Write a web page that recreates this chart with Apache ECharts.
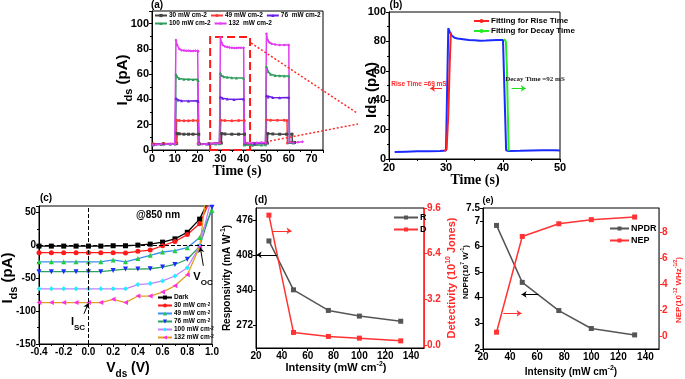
<!DOCTYPE html>
<html>
<head>
<meta charset="utf-8">
<script src="https://cdn.jsdelivr.net/npm/echarts@6/dist/echarts.min.js"></script>
<style>
html, body { margin: 0; padding: 0; background: #fff; }
#chart { width: 685px; height: 379px; }
</style>
</head>
<body>
<div id="chart"></div>
<script>
// (a) transient photocurrent, [time s, Ids pA]
const a30 = [[0.5,4.5],[5,5],[10.8,5.2],[11,13],[12,12.8],[14,12.5],[16,12.5],[18,12.5],[20.5,12.5],[20.7,5],[25,5],[30.4,5.5],[30.6,13],[32,12.7],[35,12.5],[38,12.5],[40.6,12.5],[40.8,5],[45,5],[50.6,5.5],[50.8,13],[53,12.7],[56,12.5],[59,12.5],[61.4,12.5],[61.6,6],[62.5,6]]
const a49 = [[0.5,5],[5,5],[10.6,5.3],[10.8,23.5],[12,23.3],[14,23.2],[16,23.2],[18,23.3],[20,23.3],[20.2,5],[25,5],[29.8,5.5],[30.2,23.5],[32,23.3],[35,23.2],[38,23.3],[40.5,23.3],[40.8,5],[45,5],[50,5.3],[50.2,24],[52,23.5],[55,23.5],[58,23.5],[59.2,23.4],[59.4,5.5],[61,6]]
const a76 = [[0.5,4.5],[5,5],[10.2,5],[10.5,41],[11.5,39.5],[13,39],[16,38.8],[20,39],[20.3,38.5],[20.6,5],[25,5],[29.6,5.5],[30,42],[31,41],[33,40.3],[36,40],[40.2,40.3],[40.5,5],[45,5],[49.8,5.5],[50.2,43],[51,42],[53,41.5],[56,41.3],[60,41.5],[60.3,6],[62,6]]
const a100 = [[0.5,4],[4,4.3],[8,4.5],[10.2,4.8],[10.5,60],[11,58],[12,56.5],[14,56],[16,56],[18,55.8],[20,56],[20.3,55],[20.6,4.5],[24,4.5],[28,4.8],[29.6,5],[30,61],[30.5,59],[31.5,58],[33,57.5],[35,57.2],[37,57],[40.2,57],[40.5,4],[44,3.8],[48,4],[49.8,4.2],[50.2,66],[51,62],[52,60],[54,59],[56,58.8],[58,58.5],[60,58.5],[60.3,6],[62,5.5]]
const a132 = [[0.5,4],[2,4.3],[4,4.5],[6,4.7],[8,4.8],[10,5],[10.2,5],[10.5,87],[11,83],[12,80],[13,79],[14,78.8],[15,78.5],[16,78.5],[17,78.3],[18,78.3],[19,78.5],[20,78.5],[20.3,78],[20.6,5],[22,4.5],[24,4.8],[26,5],[28,5.2],[29.6,5.3],[30,89],[30.5,85],[31,83],[32,82],[33,81.5],[34,81.2],[35,81],[36,80.8],[37,80.8],[38,81],[39,81],[40.2,81],[40.5,6],[42,5.5],[44,5.5],[46,5.8],[48,6],[49.8,6],[50.2,92],[50.7,87],[51.5,85],[52.5,84],[54,83.5],[56,83],[58,83],[60,83],[60.3,6],[62,6],[64,6.2],[66,6.5]]

// (b) one pulse and the fits
const bTrace = [[21,4.8],[23,5],[25,5.2],[27,5.3],[29,5.5],[30,5.8],[30.15,6],[30.4,89],[30.7,86],[31,84],[31.5,82.5],[32,82],[33,81.5],[34,81],[35,80.8],[36,80.5],[37,80.6],[38,80.8],[39,81],[40,81],[40.3,80.5],[40.55,6],[41,5.5],[43,5.6],[45,5.8],[47,6],[49,6],[50,5.8]]
const bRise = [[29.7,5.5],[30.1,6.5],[30.4,30],[30.65,65],[30.85,86]]
const bDecay = [[40.2,81.5],[40.5,80],[40.7,60],[40.85,30],[41,5.5]]

// (c) I-V curves
const vds = [-0.4,-0.3,-0.2,-0.1,0,0.1,0.2,0.3,0.4,0.5,0.6,0.7,0.8,0.9,1.0]
const ivDark = [-1,-1,-1,-1,-1,-1,-0.5,-0.5,0.5,2,5,10,20,40,80]
const iv30 = [-11,-11,-11,-11,-11,-11,-11,-11.5,-9,-7,-0.5,6,16.5,33,75]
const iv49 = [-25,-25,-25,-25,-25,-25,-22,-25,-20,-15,-10,-8,-3.5,12,53]
const iv76 = [-40,-40,-40,-40,-40,-40,-38,-36,-36,-35.5,-33,-29,-21,-1.5,58]
const iv100 = [-66,-66,-66,-66,-66,-66,-66,-66,-59.5,-58,-54,-46.5,-34,-1,75]
const iv132 = [-87,-87,-87,-87,-87,-87,-82,-87,-77,-77,-71,-61.5,-44.5,-2.5,150]

// (d), (e) figures of merit vs intensity
const intensity = [30, 49, 76, 100, 132]
const respR = [435, 340, 300, 289, 279]
const detD = [9.1, 0.89, 0.61, 0.49, 0.3]
const npdr = [6.82, 4.6, 3.5, 2.8, 2.55]
const nep = [0.3, 7.7, 8.68, 9.0, 9.2]

const chart = echarts.init(document.getElementById('chart'))
const SANS = 'Liberation Sans'
const SERIF = 'Liberation Serif'

const pairs = (xs, ys) => xs.map((x, i) => [x, ys[i]])

function axis(extra, fs, color) {
  const c = color || '#000'
  const base = {
    type: 'value',
    axisLine: { show: true, onZero: false, lineStyle: { color: c, width: 1 } },
    axisTick: { show: true, length: 3, lineStyle: { color: c } },
    splitLine: { show: false },
    axisLabel: { fontSize: fs, fontWeight: 'bold', color: c, fontFamily: SANS, margin: 3 }
  }
  if (extra.axisLabel) extra.axisLabel = Object.assign({}, base.axisLabel, extra.axisLabel)
  if (extra.axisTick) extra.axisTick = Object.assign({}, base.axisTick, extra.axisTick)
  return Object.assign(base, extra)
}

function text(x, y, str, font, fill, extra) {
  return Object.assign({
    type: 'text', x: x, y: y, z: 100,
    style: { text: str, font: font, fill: fill || '#000', textAlign: 'center', textVerticalAlign: 'middle' }
  }, extra || {})
}

function vtext(x, y, str, rich, fill) {
  return {
    type: 'text', x: x, y: y, z: 100, rotation: Math.PI / 2,
    style: { text: str, rich: rich, fill: fill || '#000', textAlign: 'center', textVerticalAlign: 'middle' }
  }
}

function htext(x, y, str, rich) {
  return { type: 'text', x: x, y: y, z: 100, style: { text: str, rich: rich, textAlign: 'center', textVerticalAlign: 'middle' } }
}

function richSet(size, color) {
  return {
    t: { fontSize: size, fontWeight: 'bold', fontFamily: SANS, fill: color, lineHeight: size + 4, verticalAlign: 'middle' },
    p: { fontSize: Math.round(size * 0.65), fontWeight: 'bold', fontFamily: SANS, fill: color, lineHeight: size + 4, verticalAlign: 'top' },
    s: { fontSize: Math.round(size * 0.7), fontWeight: 'bold', fontFamily: SANS, fill: color, lineHeight: size + 8, verticalAlign: 'bottom' }
  }
}

function arrow(from, to, color) {
  return [{ coord: from, lineStyle: { color: color, width: 1, type: 'solid' } }, { coord: to }]
}

const lineA = (name, data, color, symbol) => ({
  name: name, type: 'line', xAxisIndex: 0, yAxisIndex: 0, data: data,
  symbol: symbol, symbolSize: 3, lineStyle: { color: color, width: 1.5 },
  itemStyle: { color: color }
})

const lineC = (name, ys, color, mColor, symbol, rot) => ({
  name: name, type: 'line', xAxisIndex: 2, yAxisIndex: 2, data: pairs(vds, ys),
  symbol: symbol, symbolRotate: rot || 0, symbolSize: 5,
  lineStyle: { color: color, width: 1.3 }, itemStyle: { color: mColor }
})

const legendText = (size) => ({ fontSize: size, fontWeight: 'bold', fontFamily: SANS, color: '#000', padding: [0, 0, 0, -3] })

const option = {
  animation: false,
  backgroundColor: '#fff',
  grid: [
    { left: 152, top: 11, width: 171, height: 139, show: true, borderColor: '#000', borderWidth: 1 },
    { left: 389, top: 12, width: 171, height: 147, show: true, borderColor: '#000', borderWidth: 1 },
    { left: 39, top: 206, width: 173, height: 138, show: true, borderColor: '#000', borderWidth: 1 },
    { left: 256, top: 208, width: 168, height: 140, show: true, borderColor: '#000', borderWidth: 1 },
    { left: 483, top: 208, width: 176, height: 141, show: true, borderColor: '#000', borderWidth: 1 }
  ],
  xAxis: [
    axis({ gridIndex: 0, min: 0, max: 75, interval: 10, minorTick: { show: true, splitNumber: 2, length: 2 } }, 11),
    axis({ gridIndex: 1, min: 20, max: 50, interval: 10, minorTick: { show: true, splitNumber: 2, length: 2 } }, 11),
    axis({ gridIndex: 2, min: -0.4, max: 1.0, interval: 0.2, minorTick: { show: true, splitNumber: 2, length: 2 },
      axisLabel: { fontSize: 10, formatter: v => v.toFixed(1) } }, 10),
    axis({ gridIndex: 3, min: 20, max: 150, interval: 20 }, 10),
    axis({ gridIndex: 4, min: 20, max: 150, interval: 20 }, 10)
  ],
  yAxis: [
    axis({ gridIndex: 0, min: 0, max: 110, interval: 20, minorTick: { show: true, splitNumber: 2, length: 2 },
      axisLabel: { showMaxLabel: false } }, 11),
    axis({ gridIndex: 1, min: 0, max: 100, interval: 20, minorTick: { show: true, splitNumber: 2, length: 2 } }, 11),
    axis({ gridIndex: 2, min: -150, max: 60, interval: 50, minorTick: { show: true, splitNumber: 2, length: 2 } }, 10),
    axis({ gridIndex: 3, min: 227, max: 499,
      axisTick: { customValues: [272, 340, 408, 476] },
      axisLabel: { customValues: [272, 340, 408, 476] } }, 10),
    axis({ gridIndex: 3, position: 'right', min: -0.2, max: 9.6,
      axisTick: { customValues: [0, 3.2, 6.4, 9.6] },
      axisLabel: { customValues: [0, 3.2, 6.4, 9.6], formatter: v => v.toFixed(1) } }, 10, '#ff2a2a'),
    axis({ gridIndex: 4, min: 2, max: 7.5, interval: 1 }, 10),
    axis({ gridIndex: 4, position: 'right', min: -1, max: 9.9,
      axisTick: { customValues: [0, 2, 4, 6, 8] },
      axisLabel: { customValues: [0, 2, 4, 6, 8] } }, 10, '#ff2a2a')
  ],
  legend: [
    { data: ['30 mW cm-2', '49 mW cm-2', '76  mW cm-2'], left: 154, top: 12, padding: 0, itemGap: 3, itemWidth: 12, itemHeight: 4,
      textStyle: legendText(6.5), selectedMode: false },
    { data: ['100 mW cm-2', '132  mW cm-2'], left: 154, top: 20, padding: 0, itemGap: 3, itemWidth: 12, itemHeight: 4,
      textStyle: legendText(6.5), selectedMode: false },
    { data: ['Fitting for Rise Time', 'Fitting for Decay Time'], orient: 'vertical', left: 473, top: 17, padding: 0, itemGap: 2,
      itemWidth: 15, itemHeight: 5, textStyle: legendText(8), selectedMode: false },
    { data: ['Dark', '30 mW', '49 mW', '76 mW', '100 mW', '132 mW'], orient: 'vertical', left: 157, top: 294, padding: 0, itemGap: 1,
      itemWidth: 14, itemHeight: 5, selectedMode: false,
      formatter: n => n === 'Dark' ? '{t|Dark}' : '{t|' + n + ' cm}{p|-2}',
      textStyle: { padding: [0, 0, 0, -3], rich: {
        t: { fontSize: 6.5, fontWeight: 'bold', fontFamily: SANS, color: '#000', lineHeight: 7 },
        p: { fontSize: 4.5, fontWeight: 'bold', fontFamily: SANS, color: '#000', verticalAlign: 'top', lineHeight: 7 } } } },
    { data: ['R', 'D'], orient: 'vertical', left: 393, top: 213, padding: 0, itemGap: 3, itemWidth: 24, itemHeight: 5,
      textStyle: legendText(9), selectedMode: false },
    { data: ['NPDR', 'NEP'], orient: 'vertical', left: 609, top: 224, padding: 0, itemGap: 3, itemWidth: 19, itemHeight: 5,
      textStyle: legendText(9), selectedMode: false }
  ],
  graphic: [
    text(157, 5, '(a)', 'bold 10px ' + SANS),
    text(396, 5, '(b)', 'bold 10px ' + SANS),
    text(46, 198, '(c)', 'bold 10px ' + SANS),
    text(261, 200, '(d)', 'bold 10px ' + SANS),
    text(488, 201, '(e)', 'bold 9px ' + SANS),
    text(237, 171, 'Time (s)', 'bold 14px ' + SERIF),
    text(475, 180, 'Time (s)', 'bold 14px ' + SERIF),
    vtext(123, 80, '{t|I}{s|ds}{t| (pA)}', richSet(15, '#000')),
    vtext(372, 90, '{t|Ids (pA)}', richSet(15, '#000')),
    vtext(8, 278, '{t|I}{s|ds}{t| (pA)}', richSet(15, '#000')),
    htext(128, 368, '{t|V}{s|ds}{t| (V)}', richSet(14, '#000')),
    vtext(227, 278, '{t|Responsivity (mA W}{p|-1}{t|)}', richSet(10, '#000')),
    vtext(452, 278, '{t|Detectivity (10}{p|10}{t| Jones)}', richSet(11, '#ff2a2a')),
    htext(336, 368, '{t|Intensity (mW cm}{p|-2}{t|)}', richSet(11, '#000')),
    vtext(466, 272, '{t|NDPR(10}{p|7}{t| W}{p|-1}{t|)}', richSet(8, '#000')),
    vtext(679, 290, '{t|NEP(10}{p|-12}{t| WHz}{p|-1/2}{t|)}', richSet(8, '#ff2a2a')),
    htext(571, 372, '{t|Intensity (mW cm}{p|-2}{t|)}', richSet(10, '#000')),
    text(158, 215, '@850 nm', 'bold 10px ' + SANS),
    htext(78, 322, '{t|I}{s|SC}', richSet(11, '#000')),
    htext(203, 277, '{t|V}{s|OC}', richSet(11, '#000')),
    text(419, 84, 'Rise Time =69 mS', 'bold 6.5px ' + SANS, '#ff2a2a'),
    text(535, 79, 'Decay Time =92 mS', 'bold 7px ' + SERIF, '#222'),
    { type: 'polyline', z: 100, shape: { points: [[251, 43], [357, 113]] }, style: { stroke: '#ff2a2a', lineWidth: 1.5, lineDash: [2, 2] } },
    { type: 'polyline', z: 100, shape: { points: [[270, 141], [358, 124]] }, style: { stroke: '#ff2a2a', lineWidth: 1.5, lineDash: [2, 2] } }
  ],
  series: [
    lineA('30 mW cm-2', a30, '#444444', 'rect'),
    lineA('49 mW cm-2', a49, '#ff3a3a', 'circle'),
    lineA('76  mW cm-2', a76, '#6a1fe8', 'triangle'),
    lineA('100 mW cm-2', a100, '#2e9e5e', 'triangle'),
    Object.assign(lineA('132  mW cm-2', a132, '#e23cf0', 'diamond'), {
      markArea: { silent: true, itemStyle: { color: 'rgba(0,0,0,0)', borderColor: '#ff1a1a', borderWidth: 2, borderType: 'dashed' },
        data: [[{ xAxis: 25.5, yAxis: 0 }, { xAxis: 43, yAxis: 89.5 }]] }
    }),
    { name: 'trace', type: 'line', xAxisIndex: 1, yAxisIndex: 1, data: bTrace, showSymbol: false,
      lineStyle: { color: '#1a2bff', width: 2 }, itemStyle: { color: '#1a2bff' },
      markLine: { silent: true, symbol: ['none', 'arrow'], symbolSize: 5, label: { show: false },
        data: [arrow([29.3, 48], [27.2, 48], '#ff2a2a'), arrow([41.5, 48], [44, 48], '#22dd22')] } },
    { name: 'Fitting for Rise Time', type: 'line', xAxisIndex: 1, yAxisIndex: 1, data: bRise, showSymbol: false,
      symbol: 'none', lineStyle: { color: '#ff2020', width: 2 }, itemStyle: { color: '#ff2020' } },
    { name: 'Fitting for Decay Time', type: 'line', xAxisIndex: 1, yAxisIndex: 1, data: bDecay, showSymbol: false,
      symbol: 'none', lineStyle: { color: '#22ee22', width: 2 }, itemStyle: { color: '#22ee22' } },
    Object.assign(lineC('Dark', ivDark, '#000', '#000', 'rect'), {
      markLine: { silent: true, symbol: 'none', label: { show: false }, lineStyle: { color: '#000', type: 'dashed', width: 1 },
        data: [{ xAxis: 0 }, { yAxis: 0 }] }
    }),
    Object.assign(lineC('30 mW', iv30, '#ff1a1a', '#ff1a1a', 'circle'), {
      markLine: { silent: true, symbol: ['none', 'arrow'], symbolSize: 5, label: { show: false },
        data: [arrow([-0.036, -104], [0, -88], '#000'), arrow([0.93, -31], [0.905, -3], '#000')] }
    }),
    lineC('49 mW', iv49, '#3b8ff0', '#22cc44', 'triangle'),
    lineC('76 mW', iv76, '#2ea060', '#1a2bff', 'triangle', 180),
    lineC('100 mW', iv100, '#c080ff', '#22eeff', 'diamond'),
    lineC('132 mW', iv132, '#e0a020', '#ff30e0', 'triangle', 90),
    { name: 'R', type: 'line', xAxisIndex: 3, yAxisIndex: 3, data: pairs(intensity, respR), symbol: 'rect', symbolSize: 5,
      lineStyle: { color: '#555', width: 1.5 }, itemStyle: { color: '#555' },
      markLine: { silent: true, symbol: ['none', 'arrow'], symbolSize: 5, label: { show: false },
        data: [arrow([36, 408], [20.5, 408], '#000')] } },
    { name: 'D', type: 'line', xAxisIndex: 3, yAxisIndex: 4, data: pairs(intensity, detD), symbol: 'rect', symbolSize: 5,
      lineStyle: { color: '#ff3333', width: 1.5 }, itemStyle: { color: '#ff3333' },
      markLine: { silent: true, symbol: ['none', 'arrow'], symbolSize: 5, label: { show: false },
        data: [arrow([33, 8.0], [47.5, 8.0], '#ff3333')] } },
    { name: 'NPDR', type: 'line', xAxisIndex: 4, yAxisIndex: 5, data: pairs(intensity, npdr), symbol: 'rect', symbolSize: 5,
      lineStyle: { color: '#555', width: 1.5 }, itemStyle: { color: '#555' },
      markLine: { silent: true, symbol: ['none', 'arrow'], symbolSize: 5, label: { show: false },
        data: [arrow([61, 4.13], [48.5, 4.13], '#000')] } },
    { name: 'NEP', type: 'line', xAxisIndex: 4, yAxisIndex: 6, data: pairs(intensity, nep), symbol: 'rect', symbolSize: 5,
      lineStyle: { color: '#ff3333', width: 1.5 }, itemStyle: { color: '#ff3333' },
      markLine: { silent: true, symbol: ['none', 'arrow'], symbolSize: 5, label: { show: false },
        data: [arrow([35, 1.76], [48.5, 1.76], '#ff3333')] } }
  ]
}

chart.setOption(option)
</script>
</body>
</html>
